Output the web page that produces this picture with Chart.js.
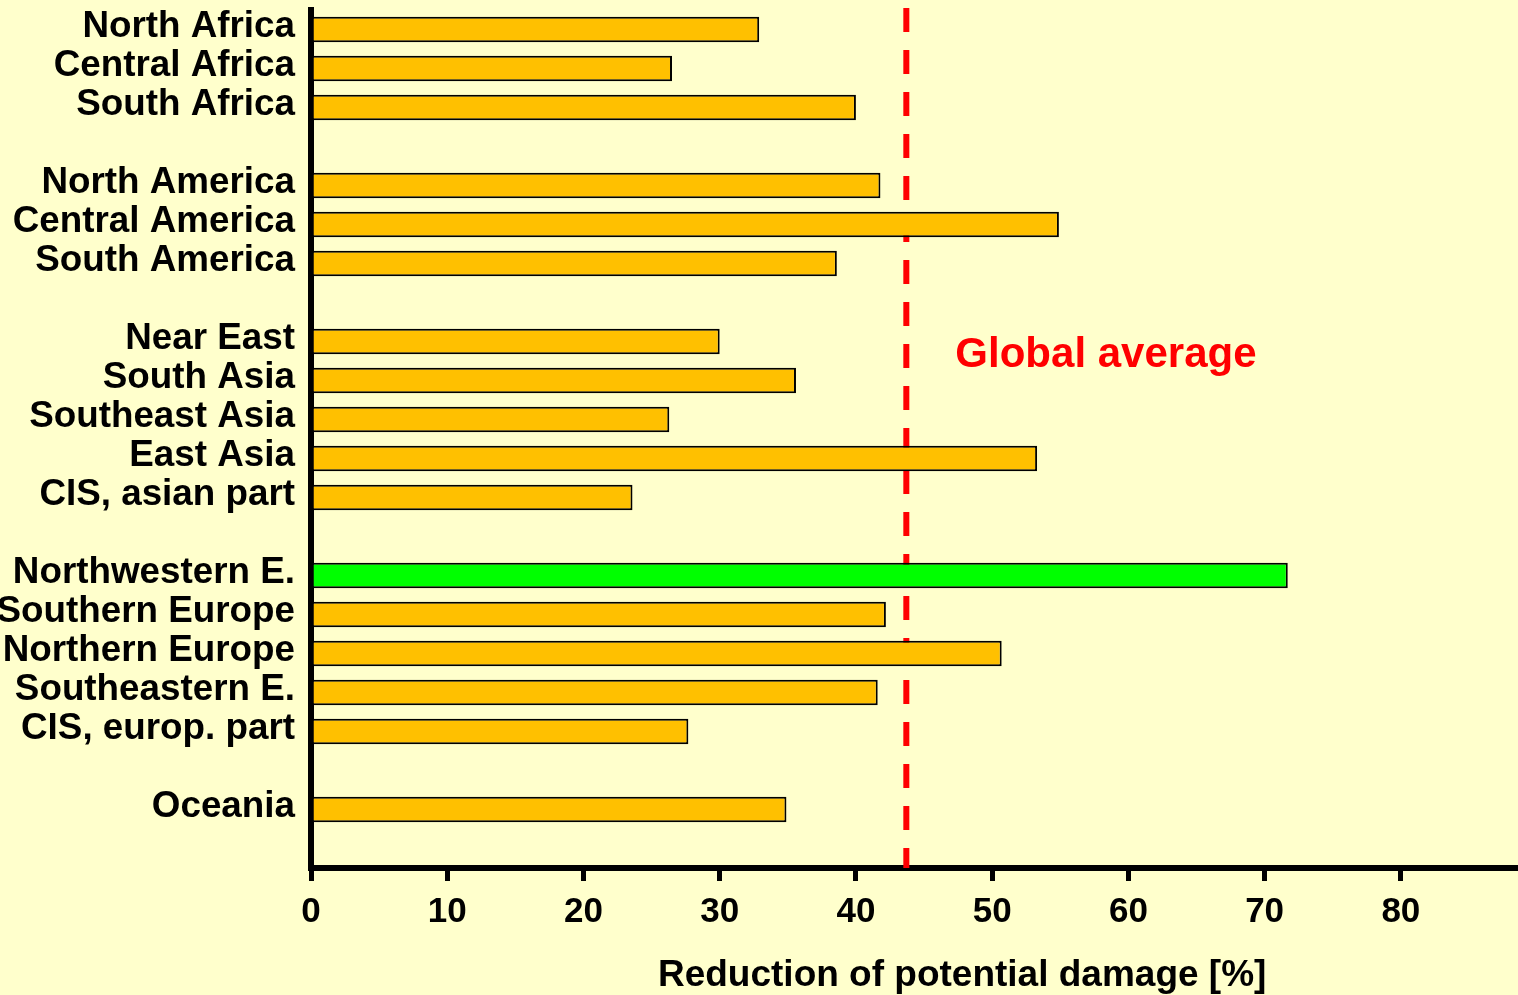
<!DOCTYPE html>
<html>
<head>
<meta charset="utf-8">
<title>Reduction of potential damage by region</title>
<script src="https://cdn.jsdelivr.net/npm/chart.js@4/dist/chart.umd.min.js"></script>
<style>
  html, body { margin: 0; padding: 0; background: #FFFFCC; overflow: hidden; }
  #wrap { width: 1518px; height: 995px; }
  canvas { display: block; }
</style>
</head>
<body>
<div id="wrap"><canvas id="chart" width="1518" height="995"></canvas></div>
<script>
// Regions, grouped by continent; empty entries leave a gap between groups.
const regions = [
  'North Africa', 'Central Africa', 'South Africa', '',
  'North America', 'Central America', 'South America', '',
  'Near East', 'South Asia', 'Southeast Asia', 'East Asia', 'CIS, asian part', '',
  'Northwestern E.', 'Southern Europe', 'Northern Europe', 'Southeastern E.', 'CIS, europ. part', '',
  'Oceania', ''
];

// Reduction of potential damage [%] per region (null = gap row).
const reduction = [
  32.9, 26.5, 40.0, null,
  41.8, 54.9, 38.6, null,
  30.0, 35.6, 26.3, 53.3, 23.6, null,
  71.7, 42.2, 50.7, 41.6, 27.7, null,
  34.9, null
];

// Highlighted region.
const highlight = ['Northwestern E.'];

// Global mean reduction, drawn as a dashed reference line.
const globalAverage = 43.7;
const globalLabel = 'Global average';

const xTicks = [0, 10, 20, 30, 40, 50, 60, 70, 80];
const xMax = 88.6;
const xTitle = 'Reduction of potential damage [%]';

const FONT = '"Liberation Sans", Arial, Helvetica, sans-serif';
const ORANGE = '#FFC000';
const GREEN = '#00FF00';

const barColors = regions.map(r => highlight.includes(r) ? GREEN : ORANGE);

// Dashed global-average line (behind the bars) plus annotations.
const annotations = {
  id: 'annotations',
  beforeDatasetsDraw(chart) {
    const { ctx, chartArea, scales: { x } } = chart;
    const px = x.getPixelForValue(globalAverage);
    ctx.save();
    ctx.strokeStyle = '#FF0000';
    ctx.lineWidth = 6;
    ctx.setLineDash([24, 18]);
    ctx.beginPath();
    ctx.moveTo(px, chartArea.top - 2);
    ctx.lineTo(px, chartArea.bottom);
    ctx.stroke();
    ctx.restore();
  },
  afterDraw(chart) {
    const { ctx, scales: { x, y } } = chart;
    ctx.save();
    ctx.fillStyle = '#FF0000';
    ctx.font = 'bold 42px ' + FONT;
    ctx.textAlign = 'left';
    ctx.textBaseline = 'middle';
    ctx.fillText(globalLabel, x.getPixelForValue(47.3), y.getPixelForValue(8.35));

    ctx.fillStyle = '#000000';
    ctx.font = 'bold 37px ' + FONT;
    ctx.textAlign = 'center';
    ctx.textBaseline = 'middle';
    ctx.fillText(xTitle, x.getPixelForValue(47.8), chart.height - 19);
    ctx.restore();
  }
};

new Chart(document.getElementById('chart'), {
  type: 'bar',
  data: {
    labels: regions,
    datasets: [{
      data: reduction,
      backgroundColor: barColors,
      borderColor: '#000000',
      borderWidth: 2,
      borderSkipped: 'start',
      barPercentage: 0.66,
      categoryPercentage: 1.0
    }]
  },
  options: {
    indexAxis: 'y',
    responsive: false,
    animation: false,
    layout: { padding: { top: 10, right: 0, bottom: 0, left: 0 } },
    plugins: {
      legend: { display: false },
      tooltip: { enabled: false }
    },
    scales: {
      y: {
        type: 'category',
        z: 1,
        afterFit(scale) {
          scale.width = 311;
          scale.paddingTop = 0;
          scale.paddingBottom = 0;
        },
        grid: { display: true, drawOnChartArea: false, drawTicks: false, color: 'rgba(0,0,0,0)' },
        border: { display: true, color: '#000000', width: 6 },
        ticks: {
          autoSkip: false,
          color: '#000000',
          padding: 16,
          labelOffset: -3,
          font: { family: FONT, size: 36.8, weight: 'bold' }
        }
      },
      x: {
        type: 'linear',
        min: 0,
        max: xMax,
        z: 1,
        afterFit(scale) {
          scale.height = 127;
          scale.paddingRight = 0;
          scale.paddingLeft = 0;
        },
        afterBuildTicks(scale) {
          scale.ticks = xTicks.map(v => ({ value: v }));
        },
        grid: {
          display: true,
          drawOnChartArea: false,
          drawTicks: true,
          tickLength: 13,
          lineWidth: 5,
          color: '#000000'
        },
        border: { display: true, color: '#000000', width: 6 },
        ticks: {
          color: '#000000',
          padding: 10,
          maxRotation: 0,
          font: { family: FONT, size: 35, weight: 'bold' },
          callback: v => String(v)
        }
      }
    }
  },
  plugins: [annotations]
});
</script>
</body>
</html>
